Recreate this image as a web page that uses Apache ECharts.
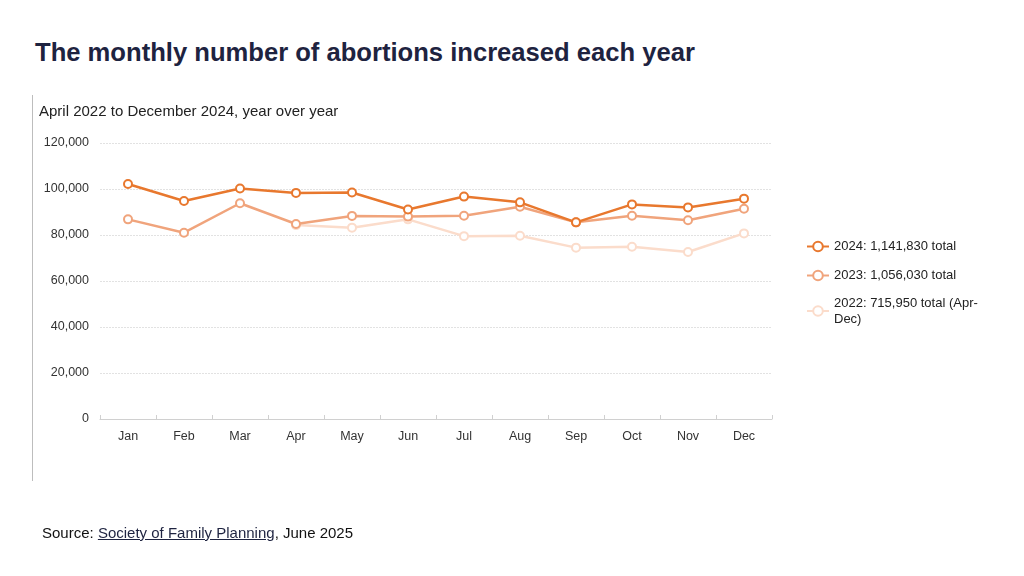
<!DOCTYPE html>
<html>
<head>
<meta charset="utf-8">
<script src="https://cdn.jsdelivr.net/npm/echarts@6/dist/echarts.min.js"></script>
<style>
    html, body { margin: 0; padding: 0; background: #fff; }
    body { width: 1024px; height: 576px; position: relative; overflow: hidden; font-family: "Liberation Sans", Arial, sans-serif; }
    .title { position: absolute; left: 35px; top: 38px; font-size: 25.6px; font-weight: bold; color: #1e2340; }
    .rule { position: absolute; left: 32px; top: 95px; width: 1px; height: 386px; background: #bdbdbd; }
    .source { position: absolute; left: 42px; top: 524px; font-size: 15px; color: #111; }
    .source u { color: #1e2340; }
    #chart { position: absolute; left: 0; top: 0; width: 1024px; height: 576px; }
</style>
</head>
<body>
<div class="title">The monthly number of abortions increased each year</div>
<div class="rule"></div>
<div id="chart"></div>
<div class="source">Source: <u>Society of Family Planning</u>, June 2025</div>
<script>
// 月份与数值
const months = ['Jan', 'Feb', 'Mar', 'Apr', 'May', 'Jun', 'Jul', 'Aug', 'Sep', 'Oct', 'Nov', 'Dec'];
const values2024 = [102200, 94800, 100200, 98300, 98500, 91100, 96700, 94200, 85500, 93300, 92000, 95800];
const values2023 = [86800, 81000, 93800, 84800, 88300, 88000, 88400, 92300, 85500, 88400, 86400, 91400];
const values2022 = [null, null, null, 84300, 83200, 86800, 79500, 79700, 74500, 74900, 72600, 80700];
const seriesNames = ['2024: 1,141,830 total', '2023: 1,056,030 total', '2022: 715,950 total (Apr-\nDec)'];
const seriesColors = ['#e8782e', '#f0a47c', '#fbdccb'];

const chart = echarts.init(document.getElementById('chart'));

const makeSeries = (name, data, color, z) => ({
    name: name,
    type: 'line',
    data: data,
    z: z,
    symbol: 'circle',
    symbolSize: 8,
    showSymbol: true,
    connectNulls: false,
    lineStyle: { color: color, width: 2.5 },
    itemStyle: { color: '#fff', borderColor: color, borderWidth: 2 },
    emphasis: { disabled: true }
});

const legendText = { fontSize: 13, color: '#222', fontFamily: 'Liberation Sans' };

chart.setOption({
    animation: false,
    textStyle: { fontFamily: 'Liberation Sans' },
    title: {
        text: 'April 2022 to December 2024, year over year',
        left: 34,
        top: 99,
        textStyle: { fontSize: 15, fontWeight: 'normal', color: '#222' }
    },
    // 三个图例分开放，便于对齐换行的第三项
    legend: [
        {
            data: [seriesNames[0]], left: 801, top: 235, orient: 'vertical',
            itemWidth: 22, itemHeight: 12, textStyle: legendText
        },
        {
            data: [seriesNames[1]], left: 801, top: 264, orient: 'vertical',
            itemWidth: 22, itemHeight: 12, textStyle: legendText
        },
        {
            data: [seriesNames[2]], left: 801, top: 282, orient: 'vertical',
            itemWidth: 22, itemHeight: 12,
            textStyle: Object.assign({ lineHeight: 16, padding: [16, 0, 0, 0] }, legendText)
        }
    ],
    grid: { left: 100, right: 252, top: 143, bottom: 157, containLabel: false },
    xAxis: {
        type: 'category',
        data: months,
        boundaryGap: true,
        axisLine: { lineStyle: { color: '#d0d0d0' } },
        axisTick: { show: true, inside: true, length: 4, lineStyle: { color: '#d0d0d0' } },
        axisLabel: { color: '#333', fontSize: 12.5, margin: 11 }
    },
    yAxis: {
        type: 'value',
        min: 0,
        max: 120000,
        interval: 20000,
        axisLine: { show: false },
        axisTick: { show: false },
        axisLabel: {
            color: '#333', fontSize: 12.5, margin: 11,
            formatter: v => v.toLocaleString('en-US')
        },
        splitLine: { lineStyle: { color: '#e2e2e2', type: [2, 1] } }
    },
    series: [
        makeSeries(seriesNames[2], values2022, seriesColors[2], 1),
        makeSeries(seriesNames[1], values2023, seriesColors[1], 2),
        makeSeries(seriesNames[0], values2024, seriesColors[0], 3)
    ]
});
</script>
</body>
</html>
